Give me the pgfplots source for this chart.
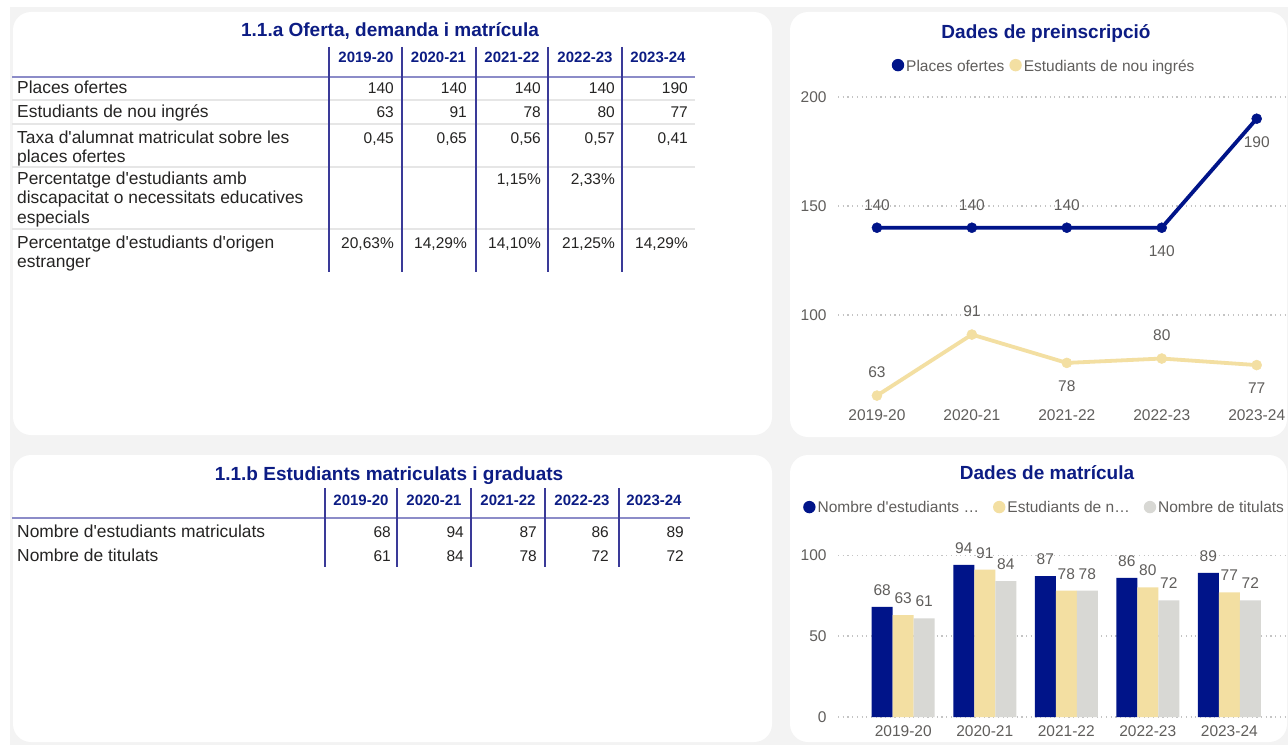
\documentclass[border=0pt]{standalone}
\usepackage{fontspec}
\setmainfont{Liberation Sans}[Ligatures=TeXOff]
\usepackage{pgfplots}
\pgfplotsset{compat=1.18}

\definecolor{bg}{HTML}{F3F3F3}
\definecolor{navy}{HTML}{001489}
\definecolor{ttl}{HTML}{0C1C84}
\definecolor{beige}{HTML}{F3DFA2}
\definecolor{lgray}{HTML}{D8D8D4}
\definecolor{txtgray}{HTML}{605E5C}
\definecolor{txt}{HTML}{252423}
\definecolor{vline}{HTML}{3A3A98}
\definecolor{hline}{HTML}{8C8CC8}
\definecolor{sep}{HTML}{E6E6E6}
\definecolor{gridc}{HTML}{C4C4C4}

\newcommand{\fsz}[1]{\fontsize{#1bp}{#1bp}\selectfont}

\pgfplotsset{
  dotlegend/.style={legend image code/.code={\fill[##1, draw=none] (7bp,1bp) circle (6.2bp);}},
  panelax/.style={
    scale only axis, clip=false,
    axis line style={draw=none}, major tick length=0pt,
    ymajorgrids, grid style={gridc, line width=1.2bp, dash pattern=on 1.2bp off 3.5bp},
    tick label style={text=txtgray, font=\fsz{15.5}},
    /pgf/number format/assume math mode=true,
    yticklabel style={xshift=-8bp},
    xtick={0,...,4},
    xticklabels={2019-20,2020-21,2021-22,2022-23,2023-24},
    legend columns=-1,
    legend style={draw=none, fill=none, anchor=center, font=\fsz{15.5},
      text=txtgray, inner sep=0pt},
    every axis plot post/.append style={dotlegend},
    nodes near coords align=center,
    every node near coord/.append style={text=txtgray, font=\fsz{15.5}, anchor=center},
  },
}

\tikzset{
  lab/.style={anchor=base west, font=\fsz{17.4}, text=txt, inner sep=0pt},
  val/.style={anchor=base east, font=\fsz{15.5}, text=txt, inner sep=0pt},
  hdr/.style={anchor=base, font=\fsz{15}\bfseries, text=ttl, inner sep=0pt},
  ttlst/.style={anchor=base, font=\fsz{19}\bfseries, text=ttl, inner sep=0pt},
}

\begin{document}
\begin{tikzpicture}[x=1bp, y=-1bp]
\path[use as bounding box] (0,0) rectangle (1288,745);
\fill[white] (0,0) rectangle (1288,745);
\fill[bg] (10,7) rectangle (1288,745);
\fill[white, rounded corners=18bp] (13,12) rectangle (772,435);
\fill[white, rounded corners=18bp] (790,12) rectangle (1287,437);
\fill[white, rounded corners=18bp] (13,455) rectangle (772,742);
\fill[white, rounded corners=18bp] (790,455) rectangle (1287,742);

% ---- table 1.1.a
\node[ttlst] at (390,37) {1.1.a Oferta, demanda i matrícula};
\foreach \y in {100,124,167,229} \draw[sep, line width=2bp] (12,\y) -- (695,\y);
\draw[hline, line width=2bp] (12,77) -- (695,77);
\foreach \x in {329,402,476,548,622} \draw[vline, line width=1.5bp] (\x,47) -- (\x,272);
\foreach \x/\t in {366/2019-20, 438.5/2020-21, 512/2021-22, 585/2022-23, 658/2023-24}
  \node[hdr] at (\x,62.6) {\t};
\node[lab] at (17,94) {Places ofertes};
\node[lab] at (17,118) {Estudiants de nou ingrés};
\node[lab] at (17,143) {Taxa d'alumnat matriculat sobre les};
\node[lab] at (17,162) {places ofertes};
\node[lab] at (17,184) {Percentatge d'estudiants amb};
\node[lab] at (17,203.5) {discapacitat o necessitats educatives};
\node[lab] at (17,223) {especials};
\node[lab] at (17,248) {Percentatge d'estudiants d'origen};
\node[lab] at (17,267) {estranger};
\foreach \x/\v in {394/140, 467/140, 541/140, 615/140, 688/190} \node[val] at (\x,94) {\v};
\foreach \x/\v in {394/63, 467/91, 541/78, 615/80, 688/77} \node[val] at (\x,118) {\v};
\foreach \x/\v in {394/{0,45}, 467/{0,65}, 541/{0,56}, 615/{0,57}, 688/{0,41}} \node[val] at (\x,143) {\v};
\foreach \x/\v in {541/{1,15\%}, 615/{2,33\%}} \node[val] at (\x,184) {\v};
\foreach \x/\v in {394/{20,63\%}, 467/{14,29\%}, 541/{14,10\%}, 615/{21,25\%}, 688/{14,29\%}} \node[val] at (\x,248) {\v};

% ---- table 1.1.b
\node[ttlst] at (389,480) {1.1.b Estudiants matriculats i graduats};
\draw[hline, line width=2bp] (12,518) -- (690,518);
\foreach \x in {325,397,471,545,619} \draw[vline, line width=1.5bp] (\x,488) -- (\x,567);
\foreach \x/\t in {361/2019-20, 434/2020-21, 508/2021-22, 582/2022-23, 654/2023-24}
  \node[hdr] at (\x,505.4) {\t};
\node[lab] at (17,537) {Nombre d'estudiants matriculats};
\node[lab] at (17,561) {Nombre de titulats};
\foreach \x/\v in {391/68, 464/94, 537/87, 609/86, 684/89} \node[val] at (\x,537) {\v};
\foreach \x/\v in {391/61, 464/84, 537/78, 609/72, 684/72} \node[val] at (\x,561) {\v};

% ---- line chart
\node[ttlst] at (1046,38.4) {Dades de preinscripció};
\begin{axis}[panelax, at={(838bp,-406.5bp)}, anchor=south west,
  width=450bp, height=320.5bp,
  xmin=-0.41, xmax=4.33, ymin=58, ymax=205, ytick={100,150,200},
  legend style={at={(0.458,1.062)},
    /tikz/every even column/.append style={column sep=3bp}}]
\addplot[navy, line width=3.8bp, mark=*, mark size=5bp,
  mark options={line width=0.5bp},
  nodes near coords, visualization depends on={\thisrow{p} \as \lp},
  every node near coord/.append style={yshift=\lp*23bp}]
  table {
x y p
0 140 1
1 140 1
2 140 1
3 140 -1
4 190 -1
};
\addplot[beige, line width=3.8bp, mark=*, mark size=5bp,
  mark options={line width=0.5bp},
  nodes near coords, visualization depends on={\thisrow{p} \as \lp},
  every node near coord/.append style={yshift=\lp*23bp}]
  table {
x y p
0 63 1
1 91 1
2 78 -1
3 80 1
4 77 -1
};
\legend{Places ofertes, Estudiants de nou ingrés}
\end{axis}

% ---- bar chart
\node[ttlst] at (1047,479.5) {Dades de matrícula};
\begin{axis}[panelax, at={(838bp,-717bp)}, anchor=south west,
  width=450bp, height=170bp,
  xmin=-0.80, xmax=4.72, ymin=0, ymax=105, ytick={0,50,100},
  ybar=0pt, bar width=21bp,
  nodes near coords, every node near coord/.append style={yshift=17bp},
  xticklabel style={yshift=-5.3bp},
  legend style={at={(0.459,1.229)},
    /tikz/every even column/.append style={column sep=12bp}}]
\addplot[fill=navy, draw=none] coordinates {(0,68) (1,94) (2,87) (3,86) (4,89)};
\addplot[fill=beige, draw=none] coordinates {(0,63) (1,91) (2,78) (3,80) (4,77)};
\addplot[fill=lgray, draw=none] coordinates {(0,61) (1,84) (2,78) (3,72) (4,72)};
\legend{Nombre d'estudiants …, Estudiants de n…, Nombre de titulats}
\end{axis}
\end{tikzpicture}
\end{document}
